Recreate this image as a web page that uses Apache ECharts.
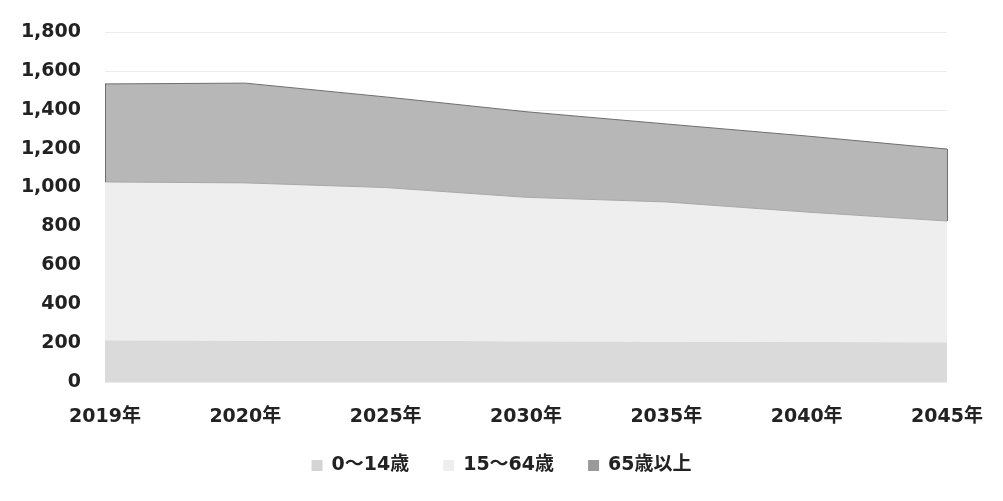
<!DOCTYPE html>
<html>
<head>
<meta charset="utf-8">
<script src="https://cdn.jsdelivr.net/npm/echarts@6/dist/echarts.min.js"></script>
<style>html,body{margin:0;padding:0;background:#fff;}#c{width:1003px;height:501px;}</style>
</head>
<body>
<div id="c"></div>
<script>
var categories = ['2019年', '2020年', '2025年', '2030年', '2035年', '2040年', '2045年'];
var seriesNames = ['0～14歳', '15～64歳', '65歳以上'];
var age0to14 = [215, 213, 212, 210, 208, 206, 205];
var age15to64 = [814, 811, 788, 740, 718, 668, 623];
var age65plus = [504, 513, 466, 440, 401, 391, 370];
var yTicks = { min: 0, max: 1800, interval: 200 };

var font = '"DejaVu Sans", Verdana, "Noto Sans CJK JP", sans-serif';
var chart = echarts.init(document.getElementById('c'), null, { renderer: 'canvas' });

var lowerTop = age0to14.map(function (v, i) { return v + age15to64[i]; });
var total = lowerTop.map(function (v, i) { return v + age65plus[i]; });
var last = categories.length - 1;

function area(name, data, fill, line, extra) {
  var s = {
    name: name, type: 'line', stack: 'total', data: data,
    symbol: 'none', smooth: false,
    lineStyle: { width: line ? 1 : 0, color: line || fill },
    areaStyle: { color: fill, opacity: 1 },
    itemStyle: { color: fill, borderColor: line || fill },
    emphasis: { disabled: true }
  };
  if (extra) { for (var k in extra) s[k] = extra[k]; }
  return s;
}
chart.setOption({
  animation: false,
  backgroundColor: '#ffffff',
  grid: { left: 105, right: 56, top: 32, bottom: 119, containLabel: false },
  legend: {
    bottom: 21, left: 'center',
    icon: 'rect', itemWidth: 11, itemHeight: 11, itemGap: 34,
    textStyle: { fontFamily: font, fontWeight: 'bold', fontSize: 19, color: '#222', padding: [0, 0, 0, 4] },
    data: [
      { name: seriesNames[0], itemStyle: { color: '#d4d4d4' } },
      { name: seriesNames[1], itemStyle: { color: '#eeeeee' } },
      { name: seriesNames[2], itemStyle: { color: '#9a9a9a' } }
    ]
  },
  xAxis: {
    type: 'category', data: categories, boundaryGap: false,
    axisLine: { show: false }, axisTick: { show: false },
    axisLabel: { fontFamily: font, fontWeight: 'bold', fontSize: 19, color: '#222', margin: 26 }
  },
  yAxis: {
    type: 'value', min: yTicks.min, max: yTicks.max, interval: yTicks.interval,
    axisLine: { show: false }, axisTick: { show: false },
    splitLine: { lineStyle: { color: '#ececec', width: 1 } },
    axisLabel: {
      fontFamily: font, fontWeight: 'bold', fontSize: 19, color: '#222', margin: 24,
      formatter: function (v) { return v.toLocaleString('en-US'); }
    }
  },
  series: [
    area(seriesNames[0], age0to14, '#dadada'),
    area(seriesNames[1], age15to64, '#eeeeee', '#a8a8a8'),
    area(seriesNames[2], age65plus, '#b7b7b7', '#6f6f6f', {
      markLine: {
        silent: true, symbol: 'none', label: { show: false },
        lineStyle: { color: '#6f6f6f', width: 1, type: 'solid' },
        data: [
          [{ coord: [categories[0], lowerTop[0]] }, { coord: [categories[0], total[0]] }],
          [{ coord: [categories[last], lowerTop[last]] }, { coord: [categories[last], total[last]] }]
        ]
      }
    })
  ]
});
</script>
</body>
</html>
